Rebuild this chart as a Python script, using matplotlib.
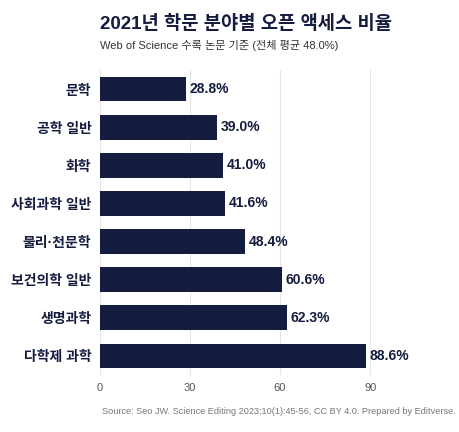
import matplotlib
matplotlib.use("Agg")
import matplotlib.pyplot as plt

plt.rcParams['font.family'] = ['Liberation Sans', 'Noto Sans CJK KR', 'DejaVu Sans']

categories = ["문학", "공학 일반", "화학", "사회과학 일반", "물리·천문학", "보건의학 일반", "생명과학", "다학제 과학"]
values = [28.8, 39.0, 41.0, 41.6, 48.4, 60.6, 62.3, 88.6]
ticks = [0, 30, 60, 90]

fig = plt.figure(figsize=(4.6, 4.32), dpi=100)
ax = fig.add_axes([0.217, 0.132, 0.653, 0.706])
y = list(range(len(categories)))
ax.barh(y, values, height=0.65, color="#141c3f", zorder=2)
for yi, v in zip(y, values):
    ax.text(v + 1.2, yi, f"{v:.1f}%", va="center", ha="left", fontsize=10, fontweight="bold", color="#141c3f")
ax.set_yticks(y)
ax.set_yticklabels(categories, fontsize=10, fontweight="bold", color="#141c3f")
ax.set_ylim(len(categories) - 0.5, -0.5)
ax.set_xlim(0, 100)
ax.set_xticks(ticks)
ax.set_xticklabels([str(t) for t in ticks], fontsize=8, color="#555555")
ax.grid(axis="x", color="#e5e5e5", linewidth=0.8, zorder=0)
for s in ax.spines.values():
    s.set_visible(False)
ax.tick_params(length=0, pad=6)

fig.text(0.217, 0.945, "2021년 학문 분야별 오픈 액세스 비율", fontsize=13.5, fontweight="bold", color="#141c3f", va="center")
fig.text(0.217, 0.895, "Web of Science 수록 논문 기준 (전체 평균 48.0%)", fontsize=8, color="#333333", va="center")
fig.text(0.99, 0.048, "Source: Seo JW. Science Editing 2023;10(1):45-56, CC BY 4.0. Prepared by Editverse.", fontsize=6.6, color="#777777", ha="right", va="center")
fig.savefig("out.png", dpi=100, facecolor="white")
